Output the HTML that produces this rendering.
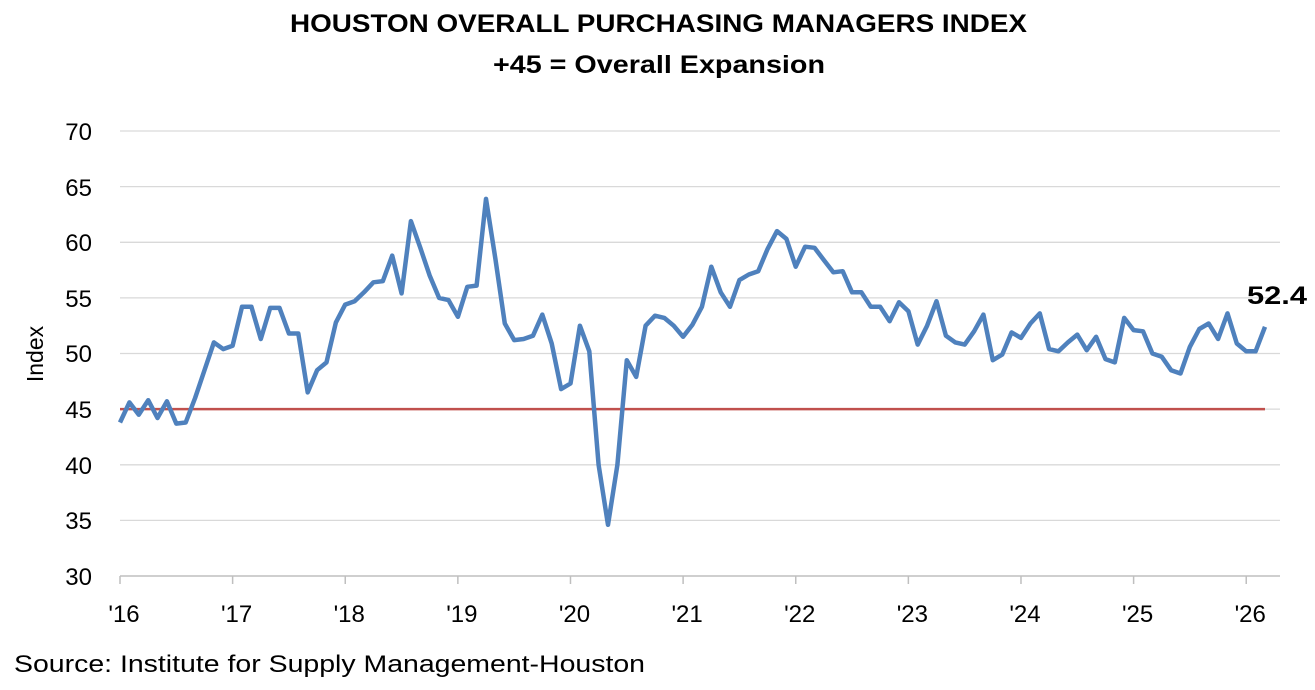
<!DOCTYPE html>
<html><head><meta charset="utf-8"><style>
body{margin:0;background:#fff;}
svg{display:block;font-family:"Liberation Sans",Calibri,sans-serif;}
</style></head><body>
<svg id="c" width="1315" height="690" viewBox="0 0 1315 690" xmlns="http://www.w3.org/2000/svg">
<text x="290" y="32" font-size="25" font-weight="bold" textLength="737" lengthAdjust="spacingAndGlyphs">HOUSTON OVERALL PURCHASING MANAGERS INDEX</text>
<text x="493" y="73" font-size="25" font-weight="bold" textLength="332" lengthAdjust="spacingAndGlyphs">+45 = Overall Expansion</text>
<g stroke="#d9d9d9" stroke-width="1.3">
<line x1="120" x2="1280" y1="131" y2="131"/><line x1="120" x2="1280" y1="186.6" y2="186.6"/>
<line x1="120" x2="1280" y1="242.3" y2="242.3"/><line x1="120" x2="1280" y1="297.9" y2="297.9"/>
<line x1="120" x2="1280" y1="353.5" y2="353.5"/><line x1="120" x2="1280" y1="409.1" y2="409.1"/>
<line x1="120" x2="1280" y1="464.8" y2="464.8"/><line x1="120" x2="1280" y1="520.4" y2="520.4"/>
</g>
<line x1="120" x2="1280" y1="576" y2="576" stroke="#bfbfbf" stroke-width="1.5"/>
<g font-size="24" text-anchor="end" fill="#000">
<text x="92" y="140">70</text><text x="92" y="196">65</text><text x="92" y="251">60</text>
<text x="92" y="307">55</text><text x="92" y="362">50</text><text x="92" y="418">45</text>
<text x="92" y="474">40</text><text x="92" y="529">35</text><text x="92" y="585">30</text>
</g>
<text transform="translate(43,354) rotate(-90)" text-anchor="middle" font-size="23">Index</text>
<g id="xt" font-size="24" text-anchor="middle"></g>
<line x1="120" x2="1265" y1="409.1" y2="409.1" stroke="#c0504d" stroke-width="2.5"/>
<polyline id="ln" fill="none" stroke="#4f81bd" stroke-width="4.5" stroke-linejoin="round"/>
<text x="1247" y="304" font-size="25" font-weight="bold" textLength="60" lengthAdjust="spacingAndGlyphs">52.4</text>
<text x="14" y="672" font-size="24" textLength="631" lengthAdjust="spacingAndGlyphs">Source: Institute for Supply Management-Houston</text>
</svg>
<script>
var d=[43.8,45.6,44.5,45.8,44.2,45.7,43.7,43.8,46,48.5,51,50.4,
50.7,54.2,54.2,51.3,54.1,54.1,51.8,51.8,46.5,48.5,49.2,52.8,
54.4,54.7,55.5,56.4,56.5,58.8,55.4,61.9,59.5,57,55,54.8,
53.3,56,56.1,63.9,58.5,52.7,51.2,51.3,51.6,53.5,50.9,46.8,
47.3,52.5,50.2,40,34.6,40,49.4,47.9,52.5,53.4,53.2,52.5,
51.5,52.6,54.2,57.8,55.5,54.2,56.6,57.1,57.4,59.4,61,60.3,
57.8,59.6,59.5,58.4,57.3,57.4,55.5,55.5,54.2,54.2,52.9,54.6,
53.8,50.8,52.5,54.7,51.6,51,50.8,52,53.5,49.4,49.9,51.9,
51.4,52.7,53.6,50.4,50.2,51,51.7,50.3,51.5,49.5,49.2,53.2,
52.1,52,50,49.7,48.5,48.2,50.6,52.2,52.7,51.3,53.6,50.9,
50.2,50.2,52.4];
var sp=(1265-120)/(d.length-1),p=[];
for(var i=0;i<d.length;i++)p.push((120+i*sp).toFixed(1)+","+(131+(70-d[i])*11.125).toFixed(1));
document.getElementById("ln").setAttribute("points",p.join(" "));
var g=document.getElementById("xt"),s="";
for(var y=0;y<=10;y++){var x=120+y*12*sp;
s+='<line x1="'+x+'" x2="'+x+'" y1="576" y2="584" stroke="#bfbfbf" stroke-width="1.5"/>';
s+='<text x="'+(x+4)+'" y="622">\''+(16+y)+'</text>';}
g.innerHTML=s;
</script>
</body></html>
